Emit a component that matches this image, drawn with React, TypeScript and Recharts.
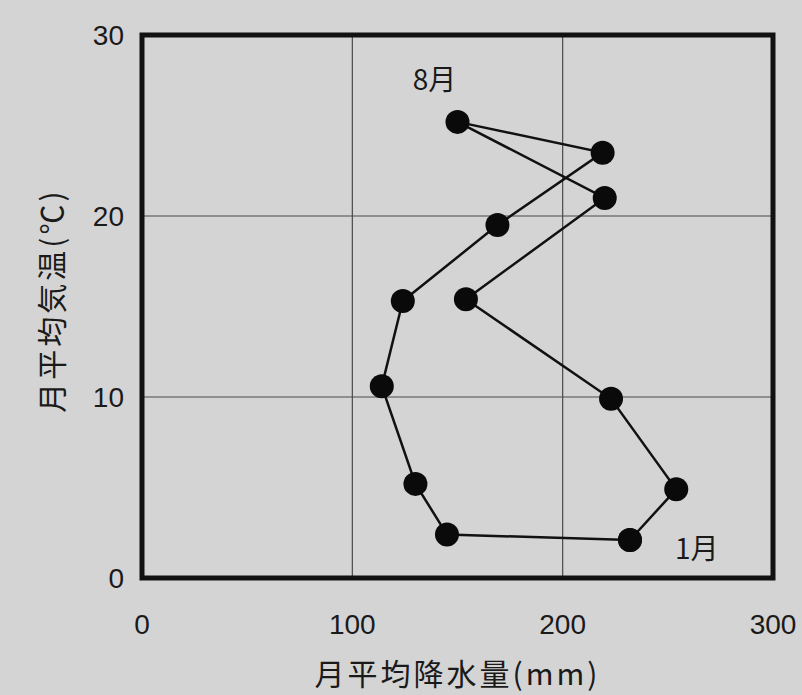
import React from 'react';
import {
  ScatterChart, Scatter, XAxis, YAxis, CartesianGrid, ReferenceArea, ReferenceDot, Label,
} from 'recharts';

// 月ごとの平均降水量(mm)と平均気温(℃)
const months = ['1月', '2月', '3月', '4月', '5月', '6月', '7月', '8月', '9月', '10月', '11月', '12月'];
const precipitation = [232, 145, 130, 114, 124, 169, 219, 150, 220, 154, 223, 254];
const temperature = [2.1, 2.4, 5.2, 10.6, 15.3, 19.5, 23.5, 25.2, 21.0, 15.4, 9.9, 4.9];

const xTicks = [0, 100, 200, 300];
const yTicks = [0, 10, 20, 30];

// 注記する月
const labeledMonths = ['8月', '1月'];

const INK = '#1a1a1a';
const BG = '#d4d4d4';
const TICK_FONT = '"Liberation Sans", Arial, sans-serif';
const JP_FONT = '"Noto Sans CJK JP", "Noto Sans", sans-serif';

const points = months.map((m, i) => ({ month: m, p: precipitation[i], t: temperature[i] }));
// ループを閉じるため1月を最後にもう一度
const loop = [...points, points[0]];

const Dot = (props: any) => <circle cx={props.cx} cy={props.cy} r={12} fill="#0a0a0a" />;

const labelStyle: Record<string, any> = {
  '8月': { position: 'top', offset: 32, dx: -23 },
  '1月': { position: 'right', offset: 45, dy: 9 },
};

export default function App() {
  return (
    <div style={{ position: 'absolute', left: 0, top: 0, width: 802, height: 695, background: BG }}>
      <ScatterChart width={802} height={695} margin={{ top: 35, right: 29, bottom: 0, left: 0 }}>
        <CartesianGrid stroke="#4a4a4a" strokeWidth={1.2} />
        <XAxis
          type="number"
          dataKey="p"
          domain={[0, 300]}
          ticks={xTicks}
          axisLine={false}
          tickLine={false}
          tickSize={0}
          tickMargin={36}
          height={117}
          tick={{ fill: INK, fontSize: 28, fontFamily: TICK_FONT }}
        >
          <Label
            value="月平均降水量(mm)"
            position="insideBottom"
            offset={10}
            fill={INK}
            fontSize={30}
            fontFamily={JP_FONT}
            letterSpacing={3}
          />
        </XAxis>
        <YAxis
          type="number"
          dataKey="t"
          domain={[0, 30]}
          ticks={yTicks}
          axisLine={false}
          tickLine={false}
          tickSize={0}
          tickMargin={18}
          width={142}
          tick={{ fill: INK, fontSize: 28, fontFamily: TICK_FONT }}
        >
          <Label
            content={({ viewBox }: any) => {
              const cx = viewBox.x + 50;
              const cy = viewBox.y + viewBox.height / 2 - 6;
              return (
                <text
                  transform={`translate(${cx}, ${cy}) rotate(-90)`}
                  textAnchor="middle"
                  dominantBaseline="central"
                  fill={INK}
                  fontSize={30}
                  fontFamily={JP_FONT}
                  letterSpacing={3}
                >
                  月平均気温(℃)
                </text>
              );
            }}
          />
        </YAxis>
        <ReferenceArea
          x1={0}
          x2={300}
          y1={0}
          y2={30}
          fill="none"
          stroke="#111"
          strokeWidth={5}
          ifOverflow="visible"
        />
        <Scatter
          data={loop}
          line={{ stroke: '#111', strokeWidth: 2.5 }}
          lineType="joint"
          shape={<Dot />}
          isAnimationActive={false}
        />
        {points
          .filter((d) => labeledMonths.includes(d.month))
          .map((d) => (
            <ReferenceDot key={d.month} x={d.p} y={d.t} r={0} stroke="none" fill="none" ifOverflow="visible">
              <Label
                value={d.month}
                {...labelStyle[d.month]}
                fill={INK}
                fontSize={28}
                fontFamily={JP_FONT}
              />
            </ReferenceDot>
          ))}
      </ScatterChart>
    </div>
  );
}
